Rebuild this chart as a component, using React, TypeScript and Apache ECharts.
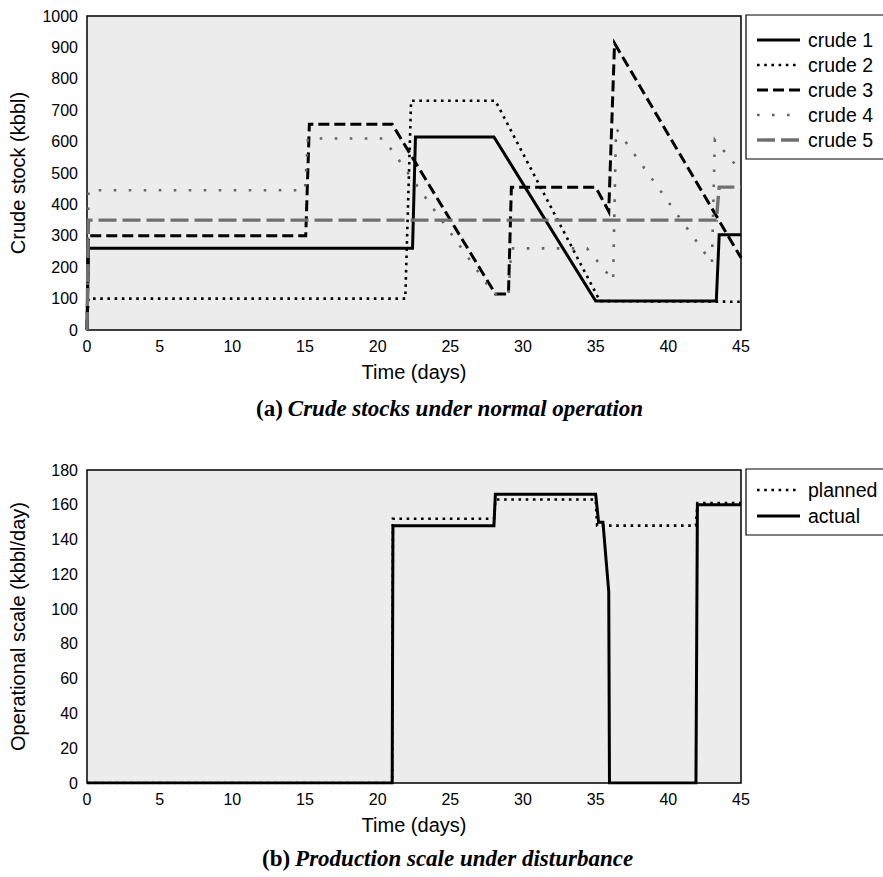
import React, { useEffect, useRef } from "react";
import * as echarts from "echarts";

// Top chart: crude stocks (kbbl) vs time (days)
const crude1: [number, number][] = [[0, 0], [0.1, 260], [22.4, 260], [22.6, 615], [28, 615], [35, 92], [43.3, 92], [43.5, 303], [45, 303]];
const crude2: [number, number][] = [[0, 0], [0.1, 100], [21.9, 100], [22.3, 730], [28.1, 730], [35.3, 92], [45, 90]];
const crude3: [number, number][] = [[0, 0], [0.1, 300], [15.05, 300], [15.3, 655], [21, 655], [28.1, 115], [29, 115], [29.2, 455], [35, 455], [35.9, 378], [36.3, 913], [45, 230]];
const crude4: [number, number][] = [[0, 0], [0.1, 445], [15, 445], [15.2, 610], [20.4, 610], [28, 115], [29, 115], [29.2, 260], [34.4, 260], [36.2, 158], [36.4, 642], [43, 213], [43.2, 605], [45, 505]];
const crude5: [number, number][] = [[0, 0], [0.1, 350], [43.3, 350], [43.5, 455], [45, 455]];

// Bottom chart: operational scale (kbbl/day) vs time (days)
const planned: [number, number][] = [[0, 0], [21, 0], [21.05, 152], [28, 152], [28.1, 163], [35, 163], [35.1, 148], [41.9, 148], [42, 161], [45, 161]];
const actual: [number, number][] = [[0, 0], [21, 0], [21.05, 148], [28, 148], [28.1, 166], [35, 166], [35.2, 150], [35.5, 150], [35.9, 110], [35.95, 0], [41.9, 0], [42, 160], [45, 160]];

const topLegend = ["crude 1", "crude 2", "crude 3", "crude 4", "crude 5"];
const bottomLegend = ["planned", "actual"];

const SANS = "Liberation Sans";
const SERIF = "Liberation Serif";

type Sty = { color: string; width: number; dash: number[] | null };
const topStyles: Sty[] = [
  { color: "#000", width: 3, dash: null },
  { color: "#000", width: 2.6, dash: [2.6, 4.6] },
  { color: "#000", width: 3, dash: [11, 5] },
  { color: "#666", width: 2.6, dash: [2.6, 12.4] },
  { color: "#707070", width: 3.4, dash: [18, 6] },
];
const bottomStyles: Sty[] = [
  { color: "#000", width: 2.6, dash: [2.6, 4.6] },
  { color: "#000", width: 3, dash: null },
];

function mkSeries(name: string, data: [number, number][], s: Sty, idx: number) {
  return {
    type: "line",
    name,
    data,
    xAxisIndex: idx,
    yAxisIndex: idx,
    showSymbol: false,
    symbol: "none",
    lineStyle: { color: s.color, width: s.width, type: s.dash ? s.dash : "solid", cap: "butt", join: "miter" },
    clip: true,
  };
}

function legendGraphic(names: string[], styles: Sty[], top: number, height: number, step: number, first: number) {
  const children: any[] = [
    { type: "rect", shape: { x: 746, y: top, width: 160, height }, style: { fill: "#fff", stroke: "#000", lineWidth: 1.2 } },
  ];
  names.forEach((n, i) => {
    const y = top + first + i * step;
    const s = styles[i];
    children.push({
      type: "line",
      shape: { x1: 757, y1: y, x2: 800, y2: y },
      style: { stroke: s.color, lineWidth: s.width, lineDash: s.dash || undefined, lineCap: "butt" },
    });
    children.push({
      type: "text",
      x: 808,
      y,
      style: { text: n, font: `19.5px "${SANS}"`, fill: "#000", verticalAlign: "middle", textAlign: "left" },
    });
  });
  return { type: "group", children };
}

function xAxisCfg(gridIndex: number) {
  return {
    type: "value",
    gridIndex,
    min: 0,
    max: 45,
    interval: 5,
    axisLine: { show: false },
    axisTick: { show: false },
    splitLine: { show: false },
    axisLabel: { fontSize: 16, color: "#000", fontFamily: SANS, margin: 8 },
    name: "Time (days)",
    nameLocation: "middle",
    nameGap: 32,
    nameTextStyle: { fontSize: 20, color: "#000", fontFamily: SANS },
  };
}

function yAxisCfg(gridIndex: number, max: number, interval: number, name: string) {
  return {
    type: "value",
    gridIndex,
    min: 0,
    max,
    interval,
    axisLine: { show: false },
    axisTick: { show: false },
    splitLine: { show: false },
    axisLabel: { fontSize: 16, color: "#000", fontFamily: SANS, margin: 9, formatter: (v: number) => String(v) },
    name,
    nameLocation: "middle",
    nameGap: 59,
    nameTextStyle: { fontSize: 20, color: "#000", fontFamily: SANS },
  };
}

const captionRich = {
  b: { fontFamily: SERIF, fontWeight: "bold", fontSize: 23, color: "#000" },
  i: { fontFamily: SERIF, fontStyle: "italic", fontSize: 23, color: "#000" },
};

export default function App() {
  const ref = useRef<HTMLDivElement>(null);
  useEffect(() => {
    const chart = echarts.init(ref.current!, undefined, { renderer: "svg" });
    const option: any = {
      animation: false,
      backgroundColor: "#fff",
      grid: [
        { left: 87, top: 16, width: 654, height: 314, show: true, backgroundColor: "#ececec", borderColor: "#000", borderWidth: 1.5 },
        { left: 87, top: 470, width: 654, height: 313, show: true, backgroundColor: "#ececec", borderColor: "#000", borderWidth: 1.5 },
      ],
      xAxis: [xAxisCfg(0), xAxisCfg(1)],
      yAxis: [yAxisCfg(0, 1000, 100, "Crude stock (kbbl)"), yAxisCfg(1, 180, 20, "Operational scale (kbbl/day)")],
      title: [
        {
          text: "{b|(a)} {i|Crude stocks under normal operation}",
          left: 256,
          top: 397,
          padding: 0,
          textStyle: { rich: captionRich },
        },
        {
          text: "{b|(b)} {i|Production scale under disturbance}",
          left: 262,
          top: 847,
          padding: 0,
          textStyle: { rich: captionRich },
        },
      ],
      series: [
        mkSeries(topLegend[0], crude1, topStyles[0], 0),
        mkSeries(topLegend[1], crude2, topStyles[1], 0),
        mkSeries(topLegend[2], crude3, topStyles[2], 0),
        mkSeries(topLegend[3], crude4, topStyles[3], 0),
        mkSeries(topLegend[4], crude5, topStyles[4], 0),
        mkSeries(bottomLegend[0], planned, bottomStyles[0], 1),
        mkSeries(bottomLegend[1], actual, bottomStyles[1], 1),
      ],
      graphic: [
        legendGraphic(topLegend, topStyles, 15, 144, 25, 25),
        legendGraphic(bottomLegend, bottomStyles, 469, 66, 26, 21),
      ],
    };
    chart.setOption(option);
    return () => chart.dispose();
  }, []);
  return <div ref={ref} style={{ position: "fixed", left: 0, top: 0, width: 883, height: 877 }} />;
}
